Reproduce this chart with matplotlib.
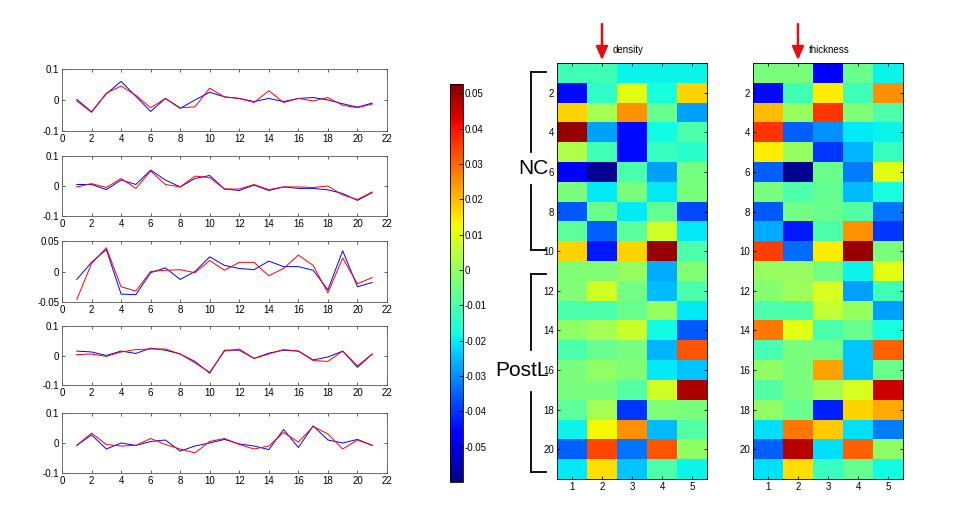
import numpy as np
import matplotlib
matplotlib.use("Agg")
import matplotlib.pyplot as plt
import matplotlib as mpl
from matplotlib.colors import Normalize
from matplotlib.lines import Line2D

W, H = 957, 529

# ---- line panels: 21 points each, blue / red ----
x_idx = np.arange(1, 22)

blue_1 = [0.002, -0.038, 0.020, 0.060, 0.012, -0.037, 0.005, -0.027, 0.000, 0.025, 0.010,
          0.005, -0.005, 0.005, -0.005, 0.005, 0.008, 0.000, -0.012, -0.023, -0.010]
red_1 = [-0.003, -0.040, 0.022, 0.045, 0.015, -0.025, 0.005, -0.025, -0.022, 0.038, 0.010,
         0.005, -0.008, 0.030, -0.008, 0.005, -0.003, 0.008, -0.017, -0.025, -0.013]

blue_2 = [0.005, 0.005, -0.012, 0.020, 0.005, 0.053, 0.020, -0.003, 0.025, 0.035, -0.010,
          -0.015, 0.003, -0.015, -0.003, -0.008, -0.008, -0.013, -0.025, -0.048, -0.022]
red_2 = [-0.003, 0.008, -0.005, 0.025, -0.008, 0.050, 0.005, -0.003, 0.033, 0.028, -0.010,
         -0.010, 0.005, -0.012, -0.003, -0.003, -0.005, 0.000, -0.030, -0.045, -0.020]

blue_3 = [-0.013, 0.015, 0.036, -0.037, -0.038, -0.002, 0.006, -0.013, 0.000, 0.024, 0.010,
          0.005, 0.003, 0.017, 0.008, 0.008, 0.002, -0.030, 0.034, -0.025, -0.018]
red_3 = [-0.046, 0.013, 0.039, -0.025, -0.032, 0.000, 0.002, 0.003, -0.002, 0.018, 0.002,
         0.015, 0.015, -0.007, 0.005, 0.027, 0.010, -0.035, 0.022, -0.020, -0.010]

blue_4 = [0.015, 0.012, 0.000, 0.015, 0.007, 0.025, 0.018, 0.005, -0.020, -0.060, 0.018,
          0.018, -0.010, 0.008, 0.018, 0.015, -0.015, -0.005, 0.015, -0.040, 0.005]
red_4 = [0.003, 0.005, -0.003, 0.012, 0.020, 0.022, 0.022, 0.005, -0.025, -0.057, 0.015,
         0.022, -0.010, 0.005, 0.020, 0.015, -0.017, -0.020, 0.015, -0.035, 0.005]

blue_5 = [-0.008, 0.027, -0.020, 0.000, -0.008, 0.005, 0.010, -0.027, -0.010, 0.000, 0.012,
          -0.003, -0.010, -0.022, 0.045, -0.015, 0.057, 0.010, 0.000, 0.012, -0.008]
red_5 = [-0.008, 0.033, -0.005, -0.010, -0.008, 0.015, -0.005, -0.020, -0.033, 0.005, 0.015,
         -0.005, -0.020, -0.010, 0.035, 0.003, 0.055, 0.030, -0.020, 0.010, -0.008]

panel_blue = [blue_1, blue_2, blue_3, blue_4, blue_5]
panel_red = [red_1, red_2, red_3, red_4, red_5]
panel_ylim = [0.1, 0.1, 0.05, 0.1, 0.1]
panel_ylabels = [["-0.1", "0", "0.1"], ["-0.1", "0", "0.1"], ["-0.05", "0", "0.05"],
                 ["-0.1", "0", "0.1"], ["-0.1", "0", "0.1"]]
x_ticks = list(range(0, 23, 2))

# ---- heatmaps: 21 subjects x 5 features ----
density = np.array([
    [-0.012, -0.012, -0.019, -0.019, -0.019],
    [-0.045, -0.014, 0.010, -0.017, 0.017],
    [0.017, 0.002, 0.025, -0.006, -0.028],
    [0.050, -0.028, -0.045, -0.018, -0.010],
    [0.003, -0.012, -0.045, -0.013, -0.015],
    [-0.047, -0.058, -0.010, -0.028, -0.005],
    [-0.004, -0.020, -0.004, -0.020, -0.004],
    [-0.036, -0.006, -0.020, -0.007, -0.038],
    [-0.008, -0.035, -0.008, 0.008, -0.020],
    [0.017, -0.043, 0.017, 0.050, -0.010],
    [-0.003, -0.003, 0.000, -0.027, -0.003],
    [-0.003, 0.008, -0.005, -0.025, -0.010],
    [-0.010, -0.010, -0.006, 0.000, -0.020],
    [-0.001, 0.002, 0.007, -0.018, -0.036],
    [-0.010, -0.006, -0.004, -0.026, 0.032],
    [-0.004, -0.001, -0.003, -0.020, -0.024],
    [-0.004, -0.004, -0.009, 0.008, 0.048],
    [-0.008, 0.002, -0.040, -0.003, -0.004],
    [-0.019, 0.013, 0.025, -0.025, -0.009],
    [-0.035, 0.034, -0.033, 0.032, -0.001],
    [-0.020, 0.016, -0.024, -0.010, -0.019],
])

thickness = np.array([
    [-0.004, -0.004, -0.048, -0.006, -0.019],
    [-0.045, -0.012, 0.014, -0.012, 0.025],
    [0.020, 0.000, 0.036, -0.003, -0.010],
    [0.036, -0.035, -0.030, -0.020, -0.019],
    [0.014, 0.000, -0.040, -0.026, -0.013],
    [-0.035, -0.058, -0.006, -0.032, 0.010],
    [-0.004, -0.010, -0.007, -0.025, -0.017],
    [-0.036, -0.005, -0.006, -0.009, -0.033],
    [-0.027, -0.043, -0.010, 0.025, -0.040],
    [0.035, -0.034, 0.014, 0.050, -0.004],
    [0.000, 0.000, -0.005, -0.019, 0.010],
    [-0.002, 0.001, 0.009, -0.028, -0.012],
    [-0.010, -0.010, 0.006, 0.000, -0.028],
    [0.028, 0.010, -0.010, -0.006, -0.017],
    [-0.011, -0.004, -0.005, -0.024, 0.031],
    [-0.001, -0.004, 0.023, -0.024, -0.006],
    [-0.009, -0.004, 0.002, 0.009, 0.045],
    [-0.001, -0.006, -0.042, 0.017, 0.022],
    [-0.021, 0.028, 0.018, -0.021, -0.032],
    [-0.035, 0.047, -0.021, 0.031, -0.001],
    [-0.021, 0.016, -0.013, -0.007, -0.018],
])

cbar_ticks = [-0.05, -0.04, -0.03, -0.02, -0.01, 0, 0.01, 0.02, 0.03, 0.04, 0.05]
cmin, cmax = -0.06, 0.0526

narrow = ["Liberation Sans Narrow", "Liberation Sans", "DejaVu Sans"]
plt.rcParams["font.family"] = narrow


def px_box(x0, y0, x1, y1):
    return [x0 / W, 1 - y1 / H, (x1 - x0) / W, (y1 - y0) / H]


def fx(x):
    return x / W


def fy(y):
    return 1 - y / H


fig = plt.figure(figsize=(W / 100, H / 100), dpi=100)

panel_px = [(69, 131), (156, 216), (241, 302), (326, 385), (413, 473)]
for i, (top, bot) in enumerate(panel_px):
    ax = fig.add_axes(px_box(62, top, 387, bot))
    ax.plot(x_idx, panel_blue[i], color="blue", lw=0.7)
    ax.plot(x_idx, panel_red[i], color="red", lw=0.7)
    lim = panel_ylim[i]
    ax.set_xlim(0, 22)
    ax.set_ylim(-lim, lim)
    ax.set_xticks(x_ticks)
    ax.set_xticklabels([str(t) for t in x_ticks])
    ax.set_yticks([-lim, 0, lim])
    ax.set_yticklabels(panel_ylabels[i])
    ax.tick_params(direction="in", top=True, right=True, length=2.5, width=0.6,
                   labelsize=7, pad=2, color="#444444")
    for s in ax.spines.values():
        s.set_linewidth(0.6)
        s.set_color("#555555")

# colorbar
cax = fig.add_axes(px_box(450, 84, 463, 482))
cb = mpl.colorbar.ColorbarBase(cax, cmap=plt.get_cmap("jet"),
                               norm=Normalize(vmin=cmin, vmax=cmax))
cb.set_ticks(cbar_ticks)
cb.set_ticklabels(["%g" % t for t in cbar_ticks])
cb.outline.set_linewidth(0.6)
cax.tick_params(direction="in", length=3, width=0.6, labelsize=7, pad=1)
for lab in cax.get_yticklabels():
    lab.set_fontfamily(["Liberation Sans", "DejaVu Sans"])

# heatmaps
heat_data = [density, thickness]
heat_names = ["density", "thickness"]
heat_left = [557, 753]
for data, name, left in zip(heat_data, heat_names, heat_left):
    ax = fig.add_axes(px_box(left, 63, left + 150, 479))
    ax.imshow(data, cmap="jet", vmin=cmin, vmax=cmax, aspect="auto",
              interpolation="nearest", extent=(0.5, 5.5, 21.5, 0.5))
    ax.set_xticks([1, 2, 3, 4, 5])
    ax.set_yticks(list(range(2, 21, 2)))
    ax.tick_params(direction="in", top=True, right=True, length=2.5, width=0.6,
                   labelsize=7, pad=2)
    for s in ax.spines.values():
        s.set_linewidth(0.6)
    # arrow above column 2
    ax.annotate("", xy=(2, 0.5), xycoords="data",
                xytext=(0, 28), textcoords="offset points",
                arrowprops=dict(arrowstyle="-|>,head_length=0.8,head_width=0.35",
                                color="#dd1111", lw=1.8, shrinkA=0, shrinkB=2))
    ax.annotate(name, xy=(2, 0.5), xycoords="data", xytext=(8, 6),
                textcoords="offset points", fontsize=7, ha="left", va="bottom")

# group brackets
def bracket(y0, y1, gap0, gap1, label, xc):
    xb, xe = 531, 546
    lines = [((xb, xe), (y0, y0)), ((xb, xb), (y0, gap0)),
             ((xb, xb), (gap1, y1)), ((xb, xe), (y1, y1))]
    for xs, ys in lines:
        fig.add_artist(Line2D([fx(v) for v in xs], [fy(v) for v in ys],
                              color="black", lw=1.3))
    fig.text(fx(xc), fy((gap0 + gap1) / 2), label, fontsize=15, ha="center",
             va="center", family=["Liberation Sans Narrow", "Liberation Sans"])


bracket(72, 250, 152, 185, "NC", 533)
bracket(274, 472, 350, 392, "PostL", 522)

fig.savefig("out.png", dpi=100)
